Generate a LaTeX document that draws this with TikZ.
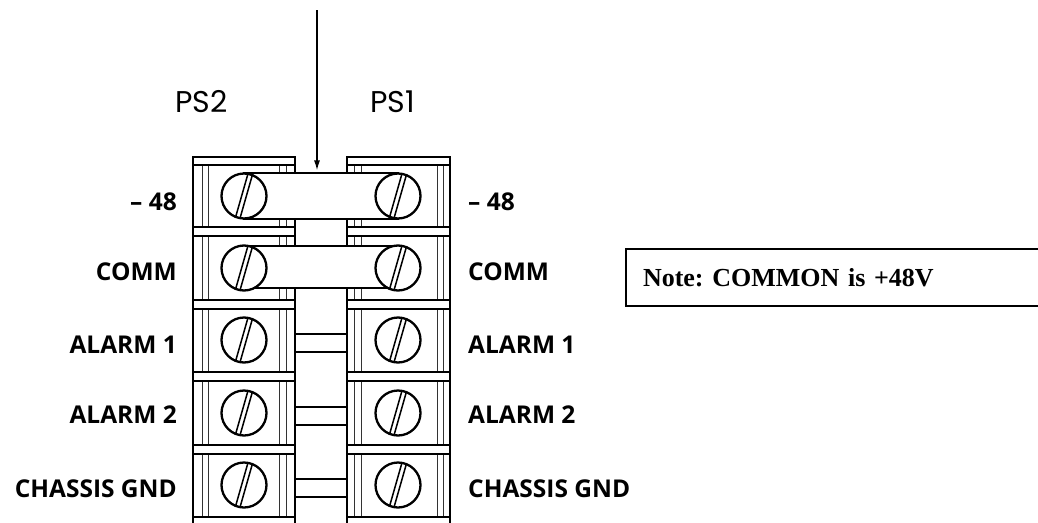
\documentclass[tikz,border=0pt]{standalone}
\usepackage{fontspec}
\setmainfont{Liberation Serif}
\newfontfamily\lblfont{Open Sans}
\newfontfamily\psfont{Poppins}
\usetikzlibrary{arrows.meta,calc}
\tikzset{
  outer/.style={line width=2.4pt},
  inner/.style={line width=0.9pt, black!80},
  sep/.style={draw, fill=white, line width=1.6pt},
  bar/.style={draw, fill=white, line width=2.2pt, rectangle, inner sep=0pt, minimum width=154pt},
  screw/.style={circle, draw, fill=white, line width=2.3pt, minimum size=45pt, inner sep=0pt,
    path picture={
      \draw[line width=1.5pt] ($(path picture bounding box.center)+(2.2,0.6)+(-10,35)$) -- ++(20,-70);
      \draw[line width=1.5pt] ($(path picture bounding box.center)+(-2.2,-0.6)+(-10,35)$) -- ++(20,-70);
    }},
  link/.style={line width=2.2pt},
  lbl/.style={font=\lblfont\bfseries\fontsize{24.5}{28}\selectfont, inner sep=0pt},
  pslbl/.style={font=\psfont\fontsize{30}{34}\selectfont, inner sep=0pt},
  arrowline/.style={line width=1.3pt, -{Latex[length=10pt,width=6pt]}},
  notebox/.style={draw, line width=2pt, anchor=north west, minimum height=57pt,
    text width=380pt, inner xsep=17pt, align=left, font=\bfseries\fontsize{26}{30}\selectfont}
}
\begin{document}
\begin{tikzpicture}[x=1pt,y=-1pt]
\useasboundingbox (0,0) rectangle (1038,522);
\clip (0,0) rectangle (1038,522);

% inner vertical lines of the blocks
\foreach \x in {202,208,279,286,354,361,437,443}
  \draw[inner] (\x,165) -- (\x,530);
% outer outlines of the blocks
\foreach \a/\b in {193/295,347/450} {
  \draw[outer] (\a,530) -- (\a,157) -- (\b,157) -- (\b,530);
  \draw[line width=1.3pt] (\a,165) -- (\b,165);
  \foreach \s in {227,300,372,445,517}
    \draw[sep] (\a,\s) rectangle (\b,\s+9);
}
% links in the gap for lower rows
\foreach \yc in {340,413,485} {
  \draw[link] (295,\yc-6) -- (347,\yc-6);
  \draw[link] (295,\yc+12) -- (347,\yc+12);
}
% jumper bars
\node[bar, minimum height=46pt] (bar1) at (321,196) {};
\node[bar, minimum height=42pt] (bar2) at (321,267) {};
% screws
\foreach \yc [count=\i] in {196,268,340,413,485} {
  \node[screw] (sL\i) at (244,\yc) {};
  \node[screw] (sR\i) at (398,\yc) {};
}
% labels
\foreach \t/\yb [count=\i] in {{– 48}/210, COMM/280, ALARM 1/353, ALARM 2/423, CHASSIS GND/497} {
  \node[lbl, anchor=base east] (lL\i) at (177,\yb) {\t};
  \node[lbl, anchor=base west] (lR\i) at (468,\yb) {\t};
}
\node[pslbl, anchor=base west] (ps2) at (175,112) {PS2};
\node[pslbl, anchor=base west] (ps1) at (370,112) {PS1};
% arrow
\coordinate (arrowtop) at (317,10);
\draw[arrowline, shorten >=1.5pt] (arrowtop) -- (arrowtop |- bar1.north);
% note
\node[notebox] (note) at (625,248) {\frenchspacing Note: COMMON is +48V};
\end{tikzpicture}
\end{document}
